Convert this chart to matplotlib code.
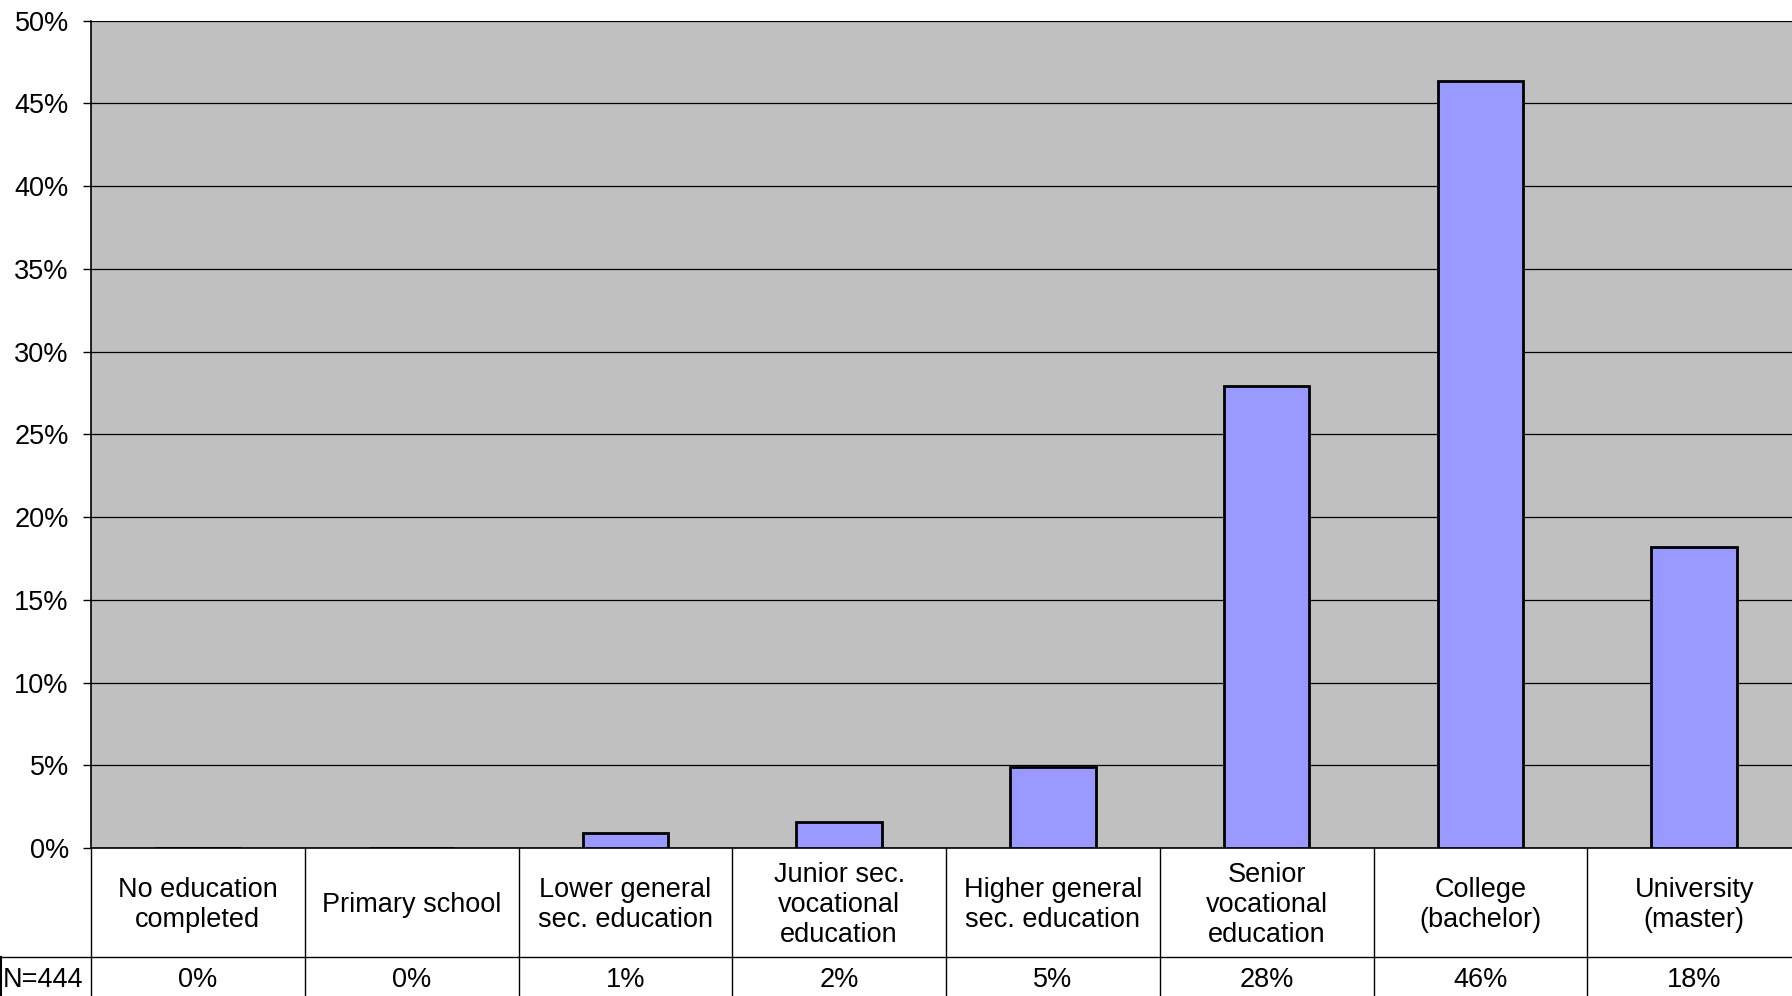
import matplotlib
matplotlib.use("Agg")
import matplotlib.pyplot as plt
from matplotlib.lines import Line2D
import numpy as np

categories = ["No education\ncompleted", "Primary school", "Lower general\nsec. education",
              "Junior sec.\nvocational\neducation", "Higher general\nsec. education",
              "Senior\nvocational\neducation", "College\n(bachelor)", "University\n(master)"]
values = [0.0, 0.0, 0.9, 1.55, 4.9, 27.9, 46.35, 18.2]
value_labels = ["0%", "0%", "1%", "2%", "5%", "28%", "46%", "18%"]
n_label = "N=444"
yticks = [0, 5, 10, 15, 20, 25, 30, 35, 40, 45, 50]

plt.rcParams['font.family'] = ['Liberation Sans', 'DejaVu Sans']
FS = 19.5

W, H = 1792, 996
fig = plt.figure(figsize=(W / 100, H / 100), dpi=100)
left_px, top_px, bottom_px = 91, 20.6, 848
ax_w_px = 1710
ax = fig.add_axes([left_px / W, 1 - bottom_px / H, ax_w_px / W, (bottom_px - top_px) / H])
ax.set_facecolor('#C0C0C0')

x = np.arange(len(categories))
ax.set_axisbelow(True)
ax.yaxis.grid(True, color='black', linewidth=0.9)
ax.bar(x, values, width=0.4, color='#9999FF', edgecolor='black', linewidth=2, zorder=3)

ax.set_xlim(-0.5, len(categories) - 0.5)
ax.set_ylim(0, 50)
ax.set_yticks(yticks)
ax.set_yticklabels([f"{v}%" for v in yticks], fontsize=FS)
ax.tick_params(axis='y', length=6, width=1, pad=10, direction='out')
ax.tick_params(axis='x', bottom=False, labelbottom=False)
for s in ['top', 'right']:
    ax.spines[s].set_visible(False)
ax.spines['left'].set_linewidth(1.2)
ax.spines['bottom'].set_linewidth(1.2)

# table below the axes
ax_h = bottom_px - top_px
row1 = -(957 - bottom_px) / ax_h
row2 = -(996 - bottom_px) / ax_h
trans = ax.get_xaxis_transform()
for i in range(len(categories) + 1):
    ax.add_line(Line2D([i - 0.5, i - 0.5], [0, row2], transform=trans, color='black',
                       linewidth=1.0, clip_on=False))
ax.add_line(Line2D([-0.5, len(categories) - 0.5], [row1, row1], transform=trans,
                   color='black', linewidth=1.0, clip_on=False))
row_mid = -(905 - bottom_px) / ax_h
val_mid = -(980 - bottom_px) / ax_h
for i, (c, v) in enumerate(zip(categories, value_labels)):
    ax.text(i, row_mid, c, transform=trans, ha='center', va='center', fontsize=FS,
            linespacing=1.2)
    ax.text(i, val_mid, v, transform=trans, ha='center', va='center', fontsize=FS)

# N cell on the far left (figure coords)
fig.add_artist(Line2D([0, left_px / W], [1 - 957 / H, 1 - 957 / H], transform=fig.transFigure,
                      color='black', linewidth=1.0))
fig.add_artist(Line2D([0.5 / W, 0.5 / W], [0, 1 - 957 / H], transform=fig.transFigure,
                      color='black', linewidth=1.5))
fig.text(3 / W, 1 - 980 / H, n_label, ha='left', va='center', fontsize=FS)

fig.savefig("out.png", dpi=100, facecolor='white')
